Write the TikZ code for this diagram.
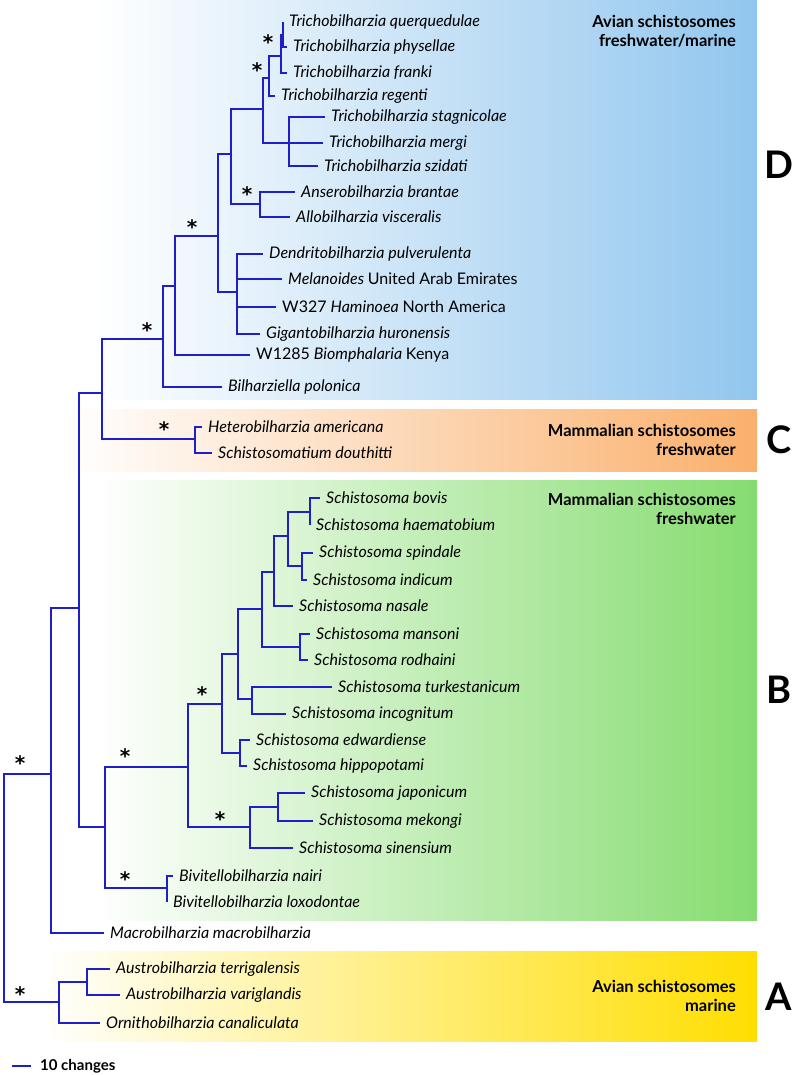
\documentclass[tikz,border=0pt]{standalone}
\usepackage{fontspec}
\setmainfont{Lato}
\newfontfamily\starfont{DejaVu Sans}
\definecolor{treeblue}{RGB}{30,30,205}
\definecolor{avianblue}{RGB}{146,198,238}
\definecolor{mammorange}{RGB}{250,176,108}
\definecolor{mammgreen}{RGB}{134,220,112}
\definecolor{marineyellow}{RGB}{255,222,0}
\tikzset{
  tip/.style={anchor=west, inner xsep=6pt, inner ysep=0pt,
    font=\fontsize{16}{18}\selectfont\itshape},
  branch/.style={treeblue, line width=1.8pt},
  support/.style={anchor=north, inner sep=0pt,
    font=\fontsize{20}{20}\selectfont\starfont\bfseries},
  habitat/.style={align=right, anchor=east, inner sep=0pt,
    font=\fontsize{16.5}{19}\selectfont\bfseries},
  cladeletter/.style={inner sep=0pt, font=\fontsize{38}{38}\selectfont\bfseries}
}
\begin{document}
\begin{tikzpicture}[x=1pt,y=-1pt]
\useasboundingbox (0,0) rectangle (800,1075);
% habitat boxes
\shade[left color=white, right color=avianblue] (95,0) rectangle (757,399);
\shade[left color=white, right color=mammorange] (65,409) rectangle (757,471);
\shade[left color=white, right color=mammgreen] (95,480) rectangle (757,920);
\shade[left color=white, right color=marineyellow] (40,951) rectangle (757,1041);
\node[habitat] (habD) at (736,31) {Avian schistosomes\\freshwater/marine};
\node[habitat] (habC) at (736,440) {Mammalian schistosomes\\freshwater};
\node[habitat] (habB) at (736,509) {Mammalian schistosomes\\freshwater};
\node[habitat] (habA) at (736,996) {Avian schistosomes\\marine};
\node[cladeletter] (letD) at (779,165) {D};
\node[cladeletter] (letC) at (779,440) {C};
\node[cladeletter] (letB) at (779,690) {B};
\node[cladeletter] (letA) at (779,997) {A};
% internal nodes
\coordinate (root) at (4,888);
\coordinate (ingroup) at (51,774);
\coordinate (bcd) at (79,608);
\coordinate (cd) at (102,393);
\coordinate (dclade) at (163,339);
\coordinate (dcore) at (175,286);
\coordinate (dcrown) at (218,236);
\coordinate (triallo) at (231,154);
\coordinate (trich) at (263,109);
\coordinate (trichA) at (269,78);
\coordinate (trichB) at (281,56);
\coordinate (trichC) at (283,35);
\coordinate (trichD) at (289,143);
\coordinate (anser) at (260,204);
\coordinate (dendro) at (237,292);
\coordinate (cclade) at (195,439);
\coordinate (bclade) at (105,827);
\coordinate (bivit) at (167,888);
\coordinate (schisto) at (188,767);
\coordinate (afr) at (222,704);
\coordinate (afrA) at (238,654);
\coordinate (afrB) at (262,609);
\coordinate (afrC) at (274,572);
\coordinate (haemgrp) at (288,536);
\coordinate (bovgrp) at (310,512);
\coordinate (spigrp) at (302,566);
\coordinate (mangrp) at (300,647);
\coordinate (turgrp) at (252,699);
\coordinate (edwgrp) at (240,753);
\coordinate (asia) at (250,827);
\coordinate (japgrp) at (278,807);
\coordinate (aclade) at (59,1002);
\coordinate (austro) at (87,982);
% tips
\node[tip] (quer) at (283,22) {Trichobilharzia querquedulae};
\node[tip] (phys) at (287,47) {Trichobilharzia physellae};
\node[tip] (frank) at (287,73) {Trichobilharzia franki};
\node[tip] (regen) at (275,96) {Trichobilharzia regenti};
\node[tip] (stagn) at (325,117) {Trichobilharzia stagnicolae};
\node[tip] (mergi) at (323,143) {Trichobilharzia mergi};
\node[tip] (szida) at (318,166) {Trichobilharzia szidati};
\node[tip] (brant) at (295,192) {Anserobilharzia brantae};
\node[tip] (visce) at (290,217) {Allobilharzia visceralis};
\node[tip] (pulve) at (263,254) {Dendritobilharzia pulverulenta};
\node[tip] (melan) at (282,279) {Melanoides \upshape United Arab Emirates};
\node[tip] (hamin) at (276,307) {\upshape W327 \itshape Haminoea \upshape North America};
\node[tip] (huron) at (260,334) {Gigantobilharzia huronensis};
\node[tip] (biomp) at (250,355) {\upshape W1285 \itshape Biomphalaria \upshape Kenya};
\node[tip] (polon) at (222,387) {Bilharziella polonica};
\node[tip] (ameri) at (202,427) {Heterobilharzia americana};
\node[tip] (douth) at (212,453) {Schistosomatium douthitti};
\node[tip] (bovis) at (320,498) {Schistosoma bovis};
\node[tip] (haema) at (310,525) {Schistosoma haematobium};
\node[tip] (spind) at (313,553) {Schistosoma spindale};
\node[tip] (indic) at (307,580) {Schistosoma indicum};
\node[tip] (nasal) at (293,606) {Schistosoma nasale};
\node[tip] (manso) at (310,634) {Schistosoma mansoni};
\node[tip] (rodha) at (308,660) {Schistosoma rodhaini};
\node[tip] (turke) at (332,687) {Schistosoma turkestanicum};
\node[tip] (incog) at (286,714) {Schistosoma incognitum};
\node[tip] (edwar) at (250,740) {Schistosoma edwardiense};
\node[tip] (hippo) at (247,766) {Schistosoma hippopotami};
\node[tip] (japon) at (305,793) {Schistosoma japonicum};
\node[tip] (mekon) at (313,821) {Schistosoma mekongi};
\node[tip] (sinen) at (293,848) {Schistosoma sinensium};
\node[tip] (nairi) at (173,876) {Bivitellobilharzia nairi};
\node[tip] (loxod) at (167,902) {Bivitellobilharzia loxodontae};
\node[tip] (macro) at (104,933) {Macrobilharzia macrobilharzia};
\node[tip] (terri) at (110,969) {Austrobilharzia terrigalensis};
\node[tip] (varig) at (120,995) {Austrobilharzia variglandis};
\node[tip] (canal) at (100,1023) {Ornithobilharzia canaliculata};
% branches
\foreach \from/\to in {root/ingroup, root/aclade, ingroup/bcd, ingroup/macro.west,
    bcd/cd, bcd/bclade, cd/dclade, cd/cclade, dclade/dcore, dclade/polon.west,
    dcore/dcrown, dcore/biomp.west, dcrown/triallo, dcrown/dendro,
    triallo/trich, triallo/anser, trich/trichA, trich/trichD,
    trichA/trichB, trichA/regen.west, trichB/trichC, trichB/frank.west,
    trichC/quer.west, trichC/phys.west, trichD/stagn.west, trichD/mergi.west,
    trichD/szida.west, anser/brant.west, anser/visce.west,
    dendro/pulve.west, dendro/melan.west, dendro/hamin.west, dendro/huron.west,
    cclade/ameri.west, cclade/douth.west, bclade/schisto, bclade/bivit,
    bivit/nairi.west, bivit/loxod.west, schisto/afr, schisto/asia,
    afr/afrA, afr/edwgrp, afrA/afrB, afrA/turgrp, afrB/afrC, afrB/mangrp,
    afrC/haemgrp, afrC/nasal.west, haemgrp/bovgrp, haemgrp/spigrp,
    bovgrp/bovis.west, bovgrp/haema.west, spigrp/spind.west, spigrp/indic.west,
    mangrp/manso.west, mangrp/rodha.west, turgrp/turke.west, turgrp/incog.west,
    edwgrp/edwar.west, edwgrp/hippo.west, asia/japgrp, asia/sinen.west,
    japgrp/japon.west, japgrp/mekon.west, aclade/austro, aclade/canal.west,
    austro/terri.west, austro/varig.west}
  \draw[branch] (\from) |- (\to);
% bootstrap support
\foreach \name/\x/\y in {sRoot/20/762, sA/20/993, sSch/125/755, sBiv/125/878,
    sAfr/202/693, sAsia/220/818, sCD/147/329, sC/164/428, sDcr/192/226,
    sAns/247/193, sTri/257/69, sTrB/268/41}
  \node[support] (\name) at (\x,\y-7) {*};
% scale bar
\coordinate (barL) at (12,1066);
\coordinate (barR) at (31,1066);
\draw[branch] (barL) -- (barR);
\node[anchor=west, inner sep=0pt, font=\fontsize{15}{17}\selectfont\bfseries] (barlab) at (40,1066) {10 changes};
\end{tikzpicture}
\end{document}
